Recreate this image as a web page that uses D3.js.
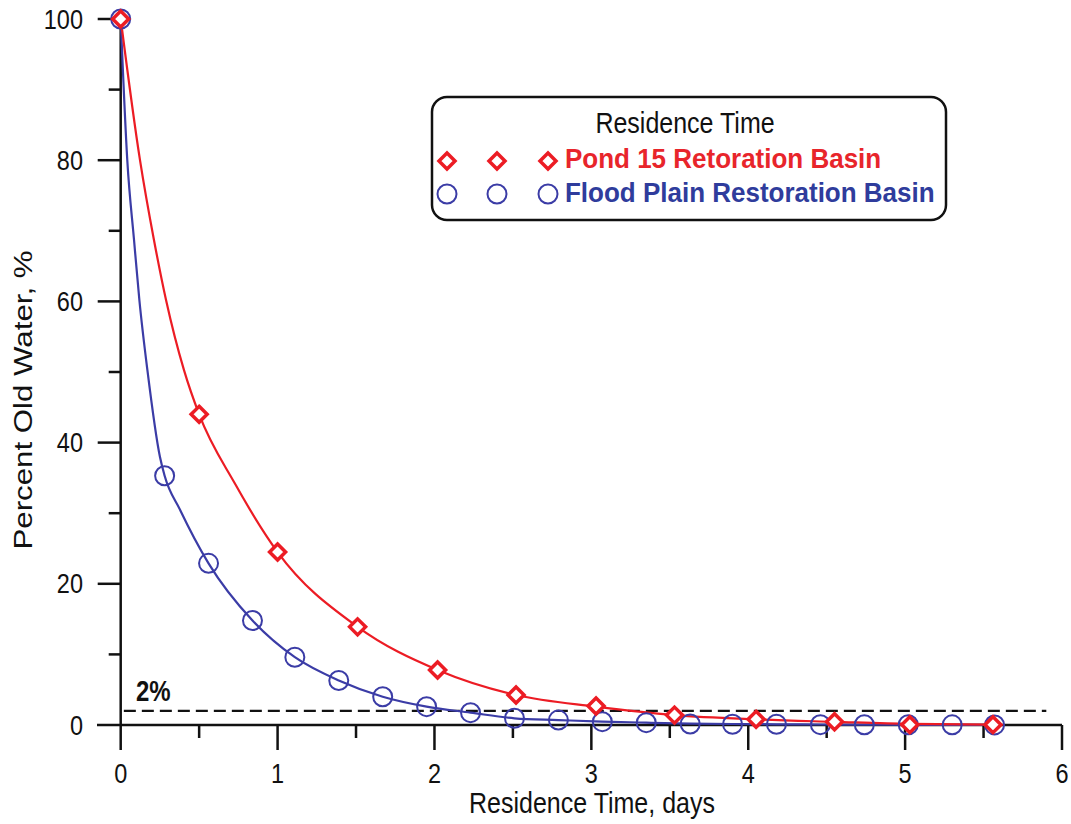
<!DOCTYPE html>
<html>
<head>
<meta charset="utf-8">
<script src="https://cdn.jsdelivr.net/npm/d3@7"></script>
<style>
  body { margin: 0; background: #fff; }
  svg { display: block; font-family: "Liberation Sans", Arial, sans-serif; }
</style>
</head>
<body>
<svg id="chart" width="1071" height="824"></svg>
<script>
// ---- data ----
const xTicks = [0, 1, 2, 3, 4, 5, 6];
const yTicks = [0, 20, 40, 60, 80, 100];
const xMinor = [0.5, 1.5, 2.5, 3.5, 4.5, 5.5];
const yMinor = [10, 30, 50, 70, 90];

// markers
const pondDays = [0, 0.5, 1.0, 1.51, 2.02, 2.52, 3.03, 3.53, 4.05, 4.55, 5.03, 5.56];
const pondPct = [100, 44, 24.5, 13.9, 7.8, 4.25, 2.7, 1.4, 0.8, 0.45, 0.05, 0.05];
const floodDays = [0, 0.28, 0.56, 0.84, 1.11, 1.39, 1.67, 1.95, 2.23, 2.51, 2.79,
  3.07, 3.35, 3.63, 3.9, 4.18, 4.46, 4.74, 5.02, 5.3, 5.57];
const floodPct = [100, 35.3, 22.9, 14.8, 9.6, 6.3, 4.0, 2.6, 1.75, 0.95, 0.7,
  0.47, 0.33, 0.14, 0.1, 0.1, 0.05, 0.04, 0.03, 0.02, 0.01];

// fitted curves (traced)
const pondCurveDays = [0, 0.123, 0.212, 0.289, 0.403, 0.5, 0.728, 1.0, 1.51, 2.02, 2.52,
  3.03, 3.53, 4.05, 4.55, 5.03, 5.56];
const pondCurvePct = [100, 80, 68.7, 60.2, 50.3, 44, 34.2, 24.5, 13.9, 7.8, 4.25,
  2.6, 1.4, 0.8, 0.45, 0.15, 0.05];
const floodCurveDays = [0, 0.042, 0.085, 0.119, 0.17, 0.25, 0.28, 0.378, 0.56, 0.84, 1.11,
  1.39, 1.67, 1.95, 2.23, 2.51, 2.79, 3.07, 3.35, 3.63, 3.9, 4.18, 4.46, 4.74, 5.02, 5.3, 5.57];
const floodCurvePct = [100, 80, 68.7, 60.2, 50.3, 38.0, 35.3, 30.5, 22.9, 14.8, 9.6,
  6.3, 4.0, 2.6, 1.75, 0.95, 0.7, 0.47, 0.33, 0.2, 0.14, 0.1, 0.07, 0.05, 0.03, 0.02, 0.01];

const thresholdPct = 2;
const thresholdDays = [0.02, 5.9];

const legendTitle = "Residence Time";
const pondLabel = "Pond 15 Retoration Basin";
const floodLabel = "Flood Plain Restoration Basin";
const xTitle = "Residence Time, days";
const yTitle = "Percent Old Water, %";

const red = "#ec1c24";
const blue = "#3b3ca6";
const SY = 1.2; // the scan is stretched a little vertically

const svg = d3.select("#chart");

const x = d3.scaleLinear().domain([0, 6]).range([120.7, 1062]);
const y = d3.scaleLinear().domain([0, 100]).range([725, 19]);

function txt(g, px, py, s, anchor, size, weight, fill, rot, sy) {
  return g.append("text")
    .attr("transform", `translate(${px},${py}) scale(1,${sy || SY})` + (rot ? ` rotate(${rot})` : ""))
    .attr("text-anchor", anchor)
    .attr("font-size", size)
    .attr("font-weight", weight || "normal")
    .attr("fill", fill || "#111")
    .text(s);
}

// ---- axes ----
const ax = svg.append("g").attr("stroke", "#111").attr("stroke-width", 2.5);
ax.append("line").attr("x1", 97).attr("x2", x(6)).attr("y1", y(0)).attr("y2", y(0));
ax.append("line").attr("x1", x(0)).attr("x2", x(0)).attr("y1", y(100)).attr("y2", y(0) + 25);
ax.selectAll(".xt").data(xTicks.slice(1)).join("line")
  .attr("x1", d => x(d)).attr("x2", d => x(d)).attr("y1", y(0)).attr("y2", y(0) + 25);
ax.selectAll(".xm").data(xMinor).join("line")
  .attr("x1", d => x(d)).attr("x2", d => x(d)).attr("y1", y(0)).attr("y2", y(0) + 13);
ax.selectAll(".yt").data(yTicks.slice(1)).join("line")
  .attr("x1", x(0) - 23).attr("x2", x(0)).attr("y1", d => y(d)).attr("y2", d => y(d));
ax.selectAll(".ym").data(yMinor).join("line")
  .attr("x1", x(0) - 12).attr("x2", x(0)).attr("y1", d => y(d)).attr("y2", d => y(d));

const lab = svg.append("g");
xTicks.forEach(d => txt(lab, x(d), 783, d, "middle", 23.5));
yTicks.forEach(d => txt(lab, 83, y(d) + 9.5, d, "end", 23.5));
txt(lab, 592, 813, xTitle, "middle", 25);
txt(lab, 32, 400, yTitle, "middle", 25, "normal", "#111", -90, 1.25);

// ---- 2% threshold ----
svg.append("line")
  .attr("x1", x(thresholdDays[0])).attr("x2", x(thresholdDays[1]))
  .attr("y1", y(thresholdPct)).attr("y2", y(thresholdPct))
  .attr("stroke", "#111").attr("stroke-width", 2.3).attr("stroke-dasharray", "12,6");
txt(lab, 136, 701, "2%", "start", 24, "bold");

// ---- curves ----
const line = d3.line().curve(d3.curveMonotoneX).x(d => x(d[0])).y(d => y(d[1]));
svg.append("path").datum(floodCurveDays.map((d, i) => [d, floodCurvePct[i]]))
  .attr("d", line).attr("fill", "none").attr("stroke", blue).attr("stroke-width", 2.2);
svg.append("path").datum(pondCurveDays.map((d, i) => [d, pondCurvePct[i]]))
  .attr("d", line).attr("fill", "none").attr("stroke", red).attr("stroke-width", 2.2);

// ---- markers ----
const diamond = "M0,-8L8,0L0,8L-8,0Z";
function circleMark(g, cx, cy) {
  g.append("circle").attr("cx", cx).attr("cy", cy).attr("r", 9.5)
    .attr("fill", "none").attr("stroke", blue).attr("stroke-width", 2);
}
function diamondMark(g, cx, cy) {
  g.append("path").attr("d", diamond).attr("transform", `translate(${cx},${cy})`)
    .attr("fill", "#fff").attr("stroke", red).attr("stroke-width", 3.5);
}
const mk = svg.append("g");
floodDays.forEach((d, i) => circleMark(mk, x(d), y(floodPct[i])));
pondDays.forEach((d, i) => diamondMark(mk, x(d), y(pondPct[i])));

// ---- legend ----
const lg = svg.append("g");
lg.append("rect").attr("x", 432).attr("y", 97).attr("width", 514).attr("height", 123)
  .attr("rx", 15).attr("fill", "#fff").attr("stroke", "#111").attr("stroke-width", 2.5);
txt(lg, 685, 133, legendTitle, "middle", 25);
[447, 497, 548].forEach(px => diamondMark(lg, px, 161));
[447, 497, 548].forEach(px => circleMark(lg, px, 194));
txt(lg, 565, 168, pondLabel, "start", 26, "bold", "#e8252b", 0, 1.05);
txt(lg, 565, 202, floodLabel, "start", 26, "bold", "#2f3c9c", 0, 1.05);
</script>
</body>
</html>
